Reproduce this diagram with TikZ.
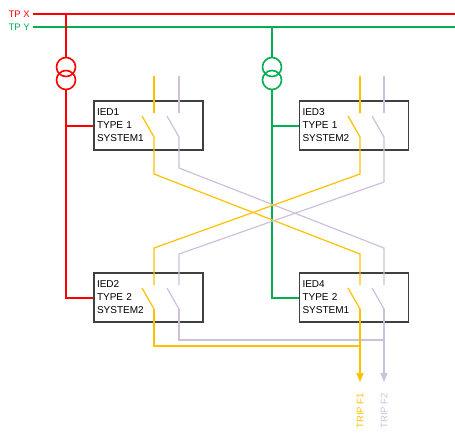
\documentclass[tikz,border=0pt]{standalone}
\usepackage{fontspec}
\setmainfont{Liberation Sans}
\usetikzlibrary{arrows.meta}
\definecolor{busred}{RGB}{255,0,0}
\definecolor{busgreen}{RGB}{0,176,80}
\definecolor{tripgold}{RGB}{255,192,0}
\definecolor{triplav}{RGB}{204,192,218}
\definecolor{boxgray}{RGB}{64,64,64}

\begin{document}
\begin{tikzpicture}
[every node/.style={inner sep=0pt},
 bus/.style={line width=2pt},
 wire/.style={line width=1.2pt},
 ct/.style={circle, minimum size=19pt, line width=1.6pt},
 ied/.style={rectangle, draw=boxgray, line width=1.2pt, minimum width=109pt, minimum height=49pt, text width=103pt, inner xsep=3pt, align=left, font=\fontsize{10}{13}\selectfont},
 buslabel/.style={anchor=east, font=\fontsize{9.5}{11}\selectfont},
 trip/.style={rotate=90, anchor=east, font=\fontsize{9.5}{11}\selectfont},
 tip/.style={-{Triangle[length=9pt, width=7pt]}}]
\useasboundingbox (0pt, 0pt) rectangle (455pt, -432pt);
% IEDs
\node (ied1) [ied] at (148.5pt, -125.5pt) {IED1\\TYPE 1\\SYSTEM1};
\node (ied2) [ied] at (148.5pt, -297.5pt) {IED2\\TYPE 2\\SYSTEM2};
\node (ied3) [ied] at (354.0pt, -125.5pt) {IED3\\TYPE 1\\SYSTEM2};
\node (ied4) [ied] at (354.0pt, -297.5pt) {IED4\\TYPE 2\\SYSTEM1};
% busbars
\node (tpx) [buslabel, text=busred] at (30.0pt, -14.0pt) {TP X};
\node (tpy) [buslabel, text=busgreen] at (30.0pt, -27.0pt) {TP Y};
\coordinate (tpxw) at (33.0pt, -14.0pt);
\coordinate (tpxe) at (455.0pt, -14.0pt);
\coordinate (tpyw) at (33.0pt, -27.0pt);
\coordinate (tpye) at (455.0pt, -27.0pt);
\draw [bus, color=busgreen] (tpyw) to (tpye);
\draw [bus, color=busred] (tpxw) to (tpxe);
% TP X feed
\coordinate (vx0) at (66.0pt, -14.0pt);
\coordinate (vx1) at (66.0pt, -125.5pt);
\coordinate (vx2) at (66.0pt, -297.5pt);
\node (ctx1) [ct, draw=busred] at (66.0pt, -67.0pt) {};
\node (ctx2) [ct, draw=busred] at (66.0pt, -80.0pt) {};
\draw [bus, color=busred] (vx0) to (ctx1.north);
\draw [bus, color=busred] (ctx2.south) -- (vx2) -- (ied2.west);
\draw [bus, color=busred] (vx1) to (ied1.west);
% TP Y feed
\coordinate (vy0) at (272.0pt, -27.0pt);
\coordinate (vy1) at (272.0pt, -125.5pt);
\coordinate (vy2) at (272.0pt, -297.5pt);
\node (cty1) [ct, draw=busgreen] at (272.0pt, -67.0pt) {};
\node (cty2) [ct, draw=busgreen] at (272.0pt, -80.0pt) {};
\draw [bus, color=busgreen] (vy0) to (cty1.north);
\draw [bus, color=busgreen] (cty2.south) -- (vy2) -- (ied4.west);
\draw [bus, color=busgreen] (vy1) to (ied3.west);
% contacts, a = trip F1, b = trip F2
\coordinate (i1atop) at (154.0pt, -76.0pt);
\coordinate (i1afix) at (154.0pt, -113.0pt);
\coordinate (i1atip) at (142.0pt, -116.0pt);
\coordinate (i1apin) at (154.0pt, -137.0pt);
\coordinate (i1btop) at (179.0pt, -76.0pt);
\coordinate (i1bfix) at (179.0pt, -113.0pt);
\coordinate (i1btip) at (167.0pt, -116.0pt);
\coordinate (i1bpin) at (179.0pt, -137.0pt);
\coordinate (i3atop) at (360.0pt, -76.0pt);
\coordinate (i3afix) at (360.0pt, -113.0pt);
\coordinate (i3atip) at (348.0pt, -116.0pt);
\coordinate (i3apin) at (360.0pt, -137.0pt);
\coordinate (i3btop) at (384.0pt, -76.0pt);
\coordinate (i3bfix) at (384.0pt, -113.0pt);
\coordinate (i3btip) at (372.0pt, -116.0pt);
\coordinate (i3bpin) at (384.0pt, -137.0pt);
\coordinate (i2afix) at (154.0pt, -285.0pt);
\coordinate (i2atip) at (142.0pt, -288.0pt);
\coordinate (i2apin) at (154.0pt, -309.0pt);
\coordinate (i2bfix) at (179.0pt, -285.0pt);
\coordinate (i2btip) at (167.0pt, -288.0pt);
\coordinate (i2bpin) at (179.0pt, -309.0pt);
\coordinate (i4afix) at (360.0pt, -285.0pt);
\coordinate (i4atip) at (348.0pt, -288.0pt);
\coordinate (i4apin) at (360.0pt, -309.0pt);
\coordinate (i4bfix) at (384.0pt, -285.0pt);
\coordinate (i4btip) at (372.0pt, -288.0pt);
\coordinate (i4bpin) at (384.0pt, -309.0pt);
\draw [wire, color=tripgold] (i1atop) to (i1afix);
\draw [wire, color=tripgold] (i1atip) to (i1apin);
\draw [wire, color=triplav] (i1btop) to (i1bfix);
\draw [wire, color=triplav] (i1btip) to (i1bpin);
\draw [wire, color=tripgold] (i3atop) to (i3afix);
\draw [wire, color=tripgold] (i3atip) to (i3apin);
\draw [wire, color=triplav] (i3btop) to (i3bfix);
\draw [wire, color=triplav] (i3btip) to (i3bpin);
\draw [wire, color=tripgold] (i2atip) to (i2apin);
\draw [wire, color=triplav] (i2btip) to (i2bpin);
\draw [wire, color=tripgold] (i4atip) to (i4apin);
\draw [wire, color=triplav] (i4btip) to (i4bpin);
% cross wiring
\coordinate (c1) at (154.0pt, -174.0pt);
\coordinate (c2) at (360.0pt, -254.0pt);
\coordinate (c3) at (179.0pt, -168.0pt);
\coordinate (c4) at (384.0pt, -248.0pt);
\coordinate (c5) at (360.0pt, -174.0pt);
\coordinate (c6) at (154.0pt, -248.0pt);
\coordinate (c7) at (384.0pt, -182.0pt);
\coordinate (c8) at (179.0pt, -254.0pt);
\draw [wire, color=tripgold] (i1apin) -- (c1) -- (c2) -- (i4afix);
\draw [wire, color=triplav] (i1bpin) -- (c3) -- (c4) -- (i4bfix);
\draw [wire, color=tripgold] (i3apin) -- (c5) -- (c6) -- (i2afix);
\draw [wire, color=triplav] (i3bpin) -- (c7) -- (c8) -- (i2bfix);
% trip outputs
\coordinate (c9) at (154.0pt, -346.0pt);
\coordinate (c10) at (360.0pt, -346.0pt);
\coordinate (c11) at (179.0pt, -340.0pt);
\coordinate (c12) at (384.0pt, -340.0pt);
\coordinate (f1) at (360.0pt, -382.0pt);
\coordinate (f2) at (384.0pt, -382.0pt);
\draw [wire, color=tripgold] (i2apin) -- (c9) -- (c10);
\draw [wire, color=triplav] (i2bpin) -- (c11) -- (c12);
\draw [wire, tip, color=tripgold] (i4apin) to (f1);
\draw [wire, tip, color=triplav] (i4bpin) to (f2);
\node (trip1) [trip, text=tripgold] at (360.0pt, -393.0pt) {TRIP F1};
\node (trip2) [trip, text=triplav] at (384.0pt, -393.0pt) {TRIP F2};
\end{tikzpicture}
\end{document}
